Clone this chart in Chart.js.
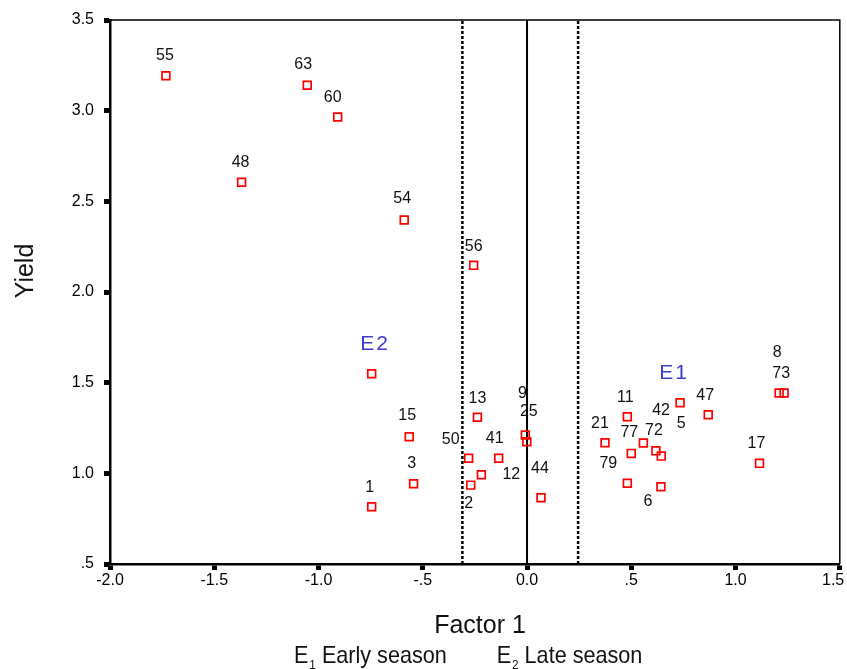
<!DOCTYPE html>
<html>
<head>
<meta charset="utf-8">
<script src="https://cdn.jsdelivr.net/npm/chart.js@4.4.1/dist/chart.umd.min.js"></script>
<style>
  html, body { margin: 0; padding: 0; background: #fff; }
  #wrap { width: 847px; height: 669px; }
</style>
</head>
<body>
<div id="wrap"><canvas id="c" width="847" height="669"></canvas></div>
<script>
// ---- data ----
const pointIds = ['55','63','60','48','54','56','','15','3','1','13','50','41','12','2','9','25','44',
                  '21','11','77','72','','5','42','47','79','6','17','8','73'];
const factor1  = [-1.732,-1.054,-0.908,-1.369,-0.589,-0.256,-0.745,-0.565,-0.544,-0.745,-0.238,-0.280,-0.136,-0.219,-0.270,-0.008,-0.001,0.067,
                  0.374,0.481,0.500,0.618,0.558,0.644,0.734,0.869,0.481,0.642,1.115,1.209,1.233];
const yieldVals = [3.193,3.140,2.965,2.605,2.397,2.147,1.549,1.202,0.943,0.816,1.309,1.083,1.083,0.992,0.935,1.211,1.174,0.865,
                  1.169,1.312,1.110,1.124,1.167,1.095,1.389,1.323,0.945,0.926,1.055,1.443,1.443];
const dottedLines = [-0.31, 0.245];
const solidLines = [0];
const groupNames = ['E1','E2'];
const groupX = [0.70, -0.734];
const groupY = [1.553, 1.713];
const xTickLabels = ['-2.0','-1.5','-1.0','-.5','0.0','.5','1.0','1.5'];
const yTickLabels = ['.5','1.0','1.5','2.0','2.5','3.0','3.5'];
const xTitle = 'Factor 1';
const yTitle = 'Yield';
const envSub = ['1','2'];
const envText = ['Early season','Late season'];

// ---- style: label offsets (px) relative to each point ----
const labelOffsets = [[-1,-20],[-4,-21],[-5,-19],[-1,-20],[-2,-21],[0,-19],[0,0],[-2,-21],[-2,-20],[-2,-19],[0,-19],[-18,-19],[-4,-20],[30,0],[-2,18],[-3,-41],[2,-30],[-1,-29],
                      [-5,-19],[-2,-19],[-2,-21],[-2,-20],[0,0],[20,-33],[-19,8],[-3,-19],[-19,-20],[-13,15],[-3,-20],[-2,-40],[-3,-19]];

const FONT = "'Liberation Sans', Arial, sans-serif";

const points = factor1.map((x, i) => ({x: x, y: yieldVals[i]}));
const datasets = [{
  label: 'genotypes',
  data: points,
  pointStyle: 'rect',
  pointRadius: 5.5,
  pointHoverRadius: 5.5,
  borderColor: '#ff0000',
  backgroundColor: 'rgba(255,255,255,0)',
  pointBorderWidth: 1.7,
  order: 0
}];
dottedLines.forEach(v => datasets.push({
  data: [{x: v, y: 0.5}, {x: v, y: 3.5}], showLine: true, pointRadius: 0,
  borderColor: '#000', borderWidth: 2.5, borderDash: [3, 2], order: 1
}));
solidLines.forEach(v => datasets.push({
  data: [{x: v, y: 0.5}, {x: v, y: 3.5}], showLine: true, pointRadius: 0,
  borderColor: '#000', borderWidth: 2, order: 1
}));

const annot = {
  id: 'annot',
  afterDraw(chart) {
    const ctx = chart.ctx, a = chart.chartArea;
    const xs = chart.scales.x, ys = chart.scales.y;
    ctx.save();
    // frame
    ctx.strokeStyle = '#000';
    ctx.lineWidth = 1.5;
    ctx.beginPath();
    ctx.moveTo(a.left, a.top); ctx.lineTo(a.right, a.top); ctx.lineTo(a.right, a.bottom);
    ctx.stroke();
    // point labels
    const meta = chart.getDatasetMeta(0);
    ctx.fillStyle = '#111';
    ctx.font = '16px ' + FONT;
    ctx.textAlign = 'center';
    ctx.textBaseline = 'middle';
    meta.data.forEach((el, i) => {
      if (!pointIds[i]) return;
      ctx.fillText(pointIds[i], el.x + labelOffsets[i][0], el.y + labelOffsets[i][1]);
    });
    // group labels
    ctx.fillStyle = '#3c3cc8';
    ctx.font = '21px ' + FONT;
    try { ctx.letterSpacing = '2px'; } catch (e) {}
    groupNames.forEach((g, i) => {
      ctx.fillText(g, xs.getPixelForValue(groupX[i]) + 1, ys.getPixelForValue(groupY[i]));
    });
    try { ctx.letterSpacing = '0px'; } catch (e) {}
    // axis titles
    ctx.fillStyle = '#111';
    ctx.font = '25px ' + FONT;
    ctx.textBaseline = 'alphabetic';
    ctx.fillText(xTitle, 480, 633);
    ctx.save();
    ctx.translate(33, 271);
    ctx.rotate(-Math.PI / 2);
    ctx.fillText(yTitle, 0, 0);
    ctx.restore();
    // environment legend
    const starts = [294, 496.7];
    starts.forEach((sx, i) => {
      ctx.save();
      ctx.translate(sx, 663);
      ctx.scale(0.9, 1);
      ctx.textAlign = 'left';
      ctx.font = '24px ' + FONT;
      ctx.fillText('E', 0, 0);
      const wE = ctx.measureText('E').width;
      ctx.font = '13px ' + FONT;
      ctx.fillText(envSub[i], wE + 1, 6);
      ctx.font = '24px ' + FONT;
      ctx.fillText(envText[i], wE + 15, 0);
      ctx.restore();
    });
    ctx.restore();
  }
};

new Chart(document.getElementById('c'), {
  type: 'scatter',
  data: { datasets: datasets },
  options: {
    responsive: false,
    animation: false,
    events: [],
    layout: { padding: { left: 0, top: 20, right: 7, bottom: 32 } },
    plugins: { legend: { display: false }, tooltip: { enabled: false }, title: { display: false } },
    scales: {
      x: {
        type: 'linear', min: -2.0, max: 1.5,
        ticks: {
          stepSize: 0.5, color: '#000', font: { family: FONT, size: 16 }, padding: 1,
          callback: (v, i) => (i === xTickLabels.length - 1 ? xTickLabels[i] + '   ' : xTickLabels[i])
        },
        grid: { drawOnChartArea: false, tickLength: 6, tickWidth: 5, tickColor: '#000' },
        border: { display: true, color: '#000', width: 2.5 },
        afterFit: s => { s.height = 73; s.paddingLeft = 0; s.paddingRight = 0; }
      },
      y: {
        type: 'linear', min: 0.5, max: 3.5,
        ticks: {
          stepSize: 0.5, color: '#000', font: { family: FONT, size: 16 }, padding: 10,
          callback: (v, i) => yTickLabels[i]
        },
        grid: { drawOnChartArea: false, tickLength: 6, tickWidth: 5, tickColor: '#000' },
        border: { display: true, color: '#000', width: 2.5 },
        afterFit: s => { s.width = 110; s.paddingTop = 0; s.paddingBottom = 0; }
      }
    }
  },
  plugins: [annot]
});
</script>
</body>
</html>
